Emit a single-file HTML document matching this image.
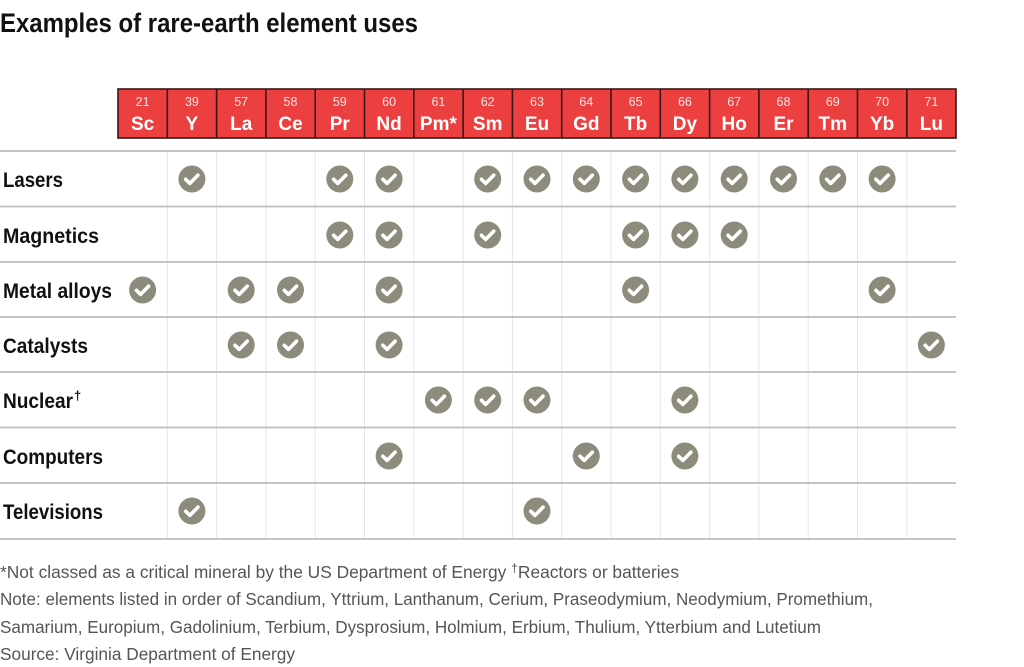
<!DOCTYPE html>
<html><head><meta charset="utf-8"><style>
html,body{margin:0;padding:0;background:#fff;}
svg{display:block;}
text{font-family:"Liberation Sans",sans-serif;}
</style></head><body>
<svg width="1024" height="667" viewBox="0 0 1024 667" xmlns="http://www.w3.org/2000/svg">
<defs>
<g id="ck"><circle r="13.5" fill="#8d8b7c"/><path d="M-6.2,0.3 L-2,4.4 L6,-3.8" fill="none" stroke="#fff" stroke-width="3.6" stroke-linecap="round" stroke-linejoin="round"/></g>
</defs>
<text x="0" y="32" font-size="27" font-weight="bold" fill="#111" textLength="418" lengthAdjust="spacingAndGlyphs">Examples of rare-earth element uses</text>

<!-- header -->
<g>
<rect x="118" y="89" width="838" height="49" fill="#ec4040" stroke="#3a1516" stroke-width="1.6"/>
<g stroke="#3a1516" stroke-width="1.6">
<line x1="167.3" y1="89" x2="167.3" y2="138"/><line x1="216.6" y1="89" x2="216.6" y2="138"/><line x1="265.9" y1="89" x2="265.9" y2="138"/><line x1="315.2" y1="89" x2="315.2" y2="138"/><line x1="364.5" y1="89" x2="364.5" y2="138"/><line x1="413.8" y1="89" x2="413.8" y2="138"/><line x1="463.1" y1="89" x2="463.1" y2="138"/><line x1="512.4" y1="89" x2="512.4" y2="138"/><line x1="561.7" y1="89" x2="561.7" y2="138"/><line x1="611" y1="89" x2="611" y2="138"/><line x1="660.3" y1="89" x2="660.3" y2="138"/><line x1="709.6" y1="89" x2="709.6" y2="138"/><line x1="758.9" y1="89" x2="758.9" y2="138"/><line x1="808.2" y1="89" x2="808.2" y2="138"/><line x1="857.5" y1="89" x2="857.5" y2="138"/><line x1="906.8" y1="89" x2="906.8" y2="138"/>
</g>
<g fill="#fde2e2" font-size="12.5" text-anchor="middle">
<text x="142.6" y="106">21</text><text x="191.9" y="106">39</text><text x="241.2" y="106">57</text><text x="290.5" y="106">58</text><text x="339.8" y="106">59</text><text x="389.1" y="106">60</text><text x="438.4" y="106">61</text><text x="487.7" y="106">62</text><text x="537" y="106">63</text><text x="586.3" y="106">64</text><text x="635.6" y="106">65</text><text x="684.9" y="106">66</text><text x="734.2" y="106">67</text><text x="783.5" y="106">68</text><text x="832.8" y="106">69</text><text x="882.1" y="106">70</text><text x="931.4" y="106">71</text>
</g>
<g fill="#fff" font-size="19" font-weight="bold" text-anchor="middle">
<text x="142.6" y="130">Sc</text><text x="191.9" y="130">Y</text><text x="241.2" y="130">La</text><text x="290.5" y="130">Ce</text><text x="339.8" y="130">Pr</text><text x="389.1" y="130">Nd</text><text x="438.4" y="130">Pm*</text><text x="487.7" y="130">Sm</text><text x="537" y="130">Eu</text><text x="586.3" y="130">Gd</text><text x="635.6" y="130">Tb</text><text x="684.9" y="130">Dy</text><text x="734.2" y="130">Ho</text><text x="783.5" y="130">Er</text><text x="832.8" y="130">Tm</text><text x="882.1" y="130">Yb</text><text x="931.4" y="130">Lu</text>
</g>
</g>

<!-- vertical grid -->
<g stroke="#e6e6e6" stroke-width="1">
<line x1="167.3" y1="151" x2="167.3" y2="539"/><line x1="216.6" y1="151" x2="216.6" y2="539"/><line x1="265.9" y1="151" x2="265.9" y2="539"/><line x1="315.2" y1="151" x2="315.2" y2="539"/><line x1="364.5" y1="151" x2="364.5" y2="539"/><line x1="413.8" y1="151" x2="413.8" y2="539"/><line x1="463.1" y1="151" x2="463.1" y2="539"/><line x1="512.4" y1="151" x2="512.4" y2="539"/><line x1="561.7" y1="151" x2="561.7" y2="539"/><line x1="611" y1="151" x2="611" y2="539"/><line x1="660.3" y1="151" x2="660.3" y2="539"/><line x1="709.6" y1="151" x2="709.6" y2="539"/><line x1="758.9" y1="151" x2="758.9" y2="539"/><line x1="808.2" y1="151" x2="808.2" y2="539"/><line x1="857.5" y1="151" x2="857.5" y2="539"/><line x1="906.8" y1="151" x2="906.8" y2="539"/>
</g>
<!-- horizontal lines -->
<g stroke="#bcbcbc" stroke-width="1.8">
<line x1="0" y1="151" x2="956" y2="151"/><line x1="0" y1="206.5" x2="956" y2="206.5"/><line x1="0" y1="262" x2="956" y2="262"/><line x1="0" y1="317" x2="956" y2="317"/><line x1="0" y1="372" x2="956" y2="372"/><line x1="0" y1="427.5" x2="956" y2="427.5"/><line x1="0" y1="483" x2="956" y2="483"/><line x1="0" y1="539" x2="956" y2="539"/>
</g>

<!-- row labels -->
<g fill="#111" font-size="21" font-weight="bold">
<text x="3" y="187" textLength="60" lengthAdjust="spacingAndGlyphs">Lasers</text>
<text x="3" y="243" textLength="96" lengthAdjust="spacingAndGlyphs">Magnetics</text>
<text x="3" y="298" textLength="109" lengthAdjust="spacingAndGlyphs">Metal alloys</text>
<text x="3" y="353" textLength="85" lengthAdjust="spacingAndGlyphs">Catalysts</text>
<text x="3" y="408" textLength="70" lengthAdjust="spacingAndGlyphs">Nuclear</text><text x="74" y="400" font-size="13" font-weight="bold">†</text>
<text x="3" y="464" textLength="100" lengthAdjust="spacingAndGlyphs">Computers</text>
<text x="3" y="519" textLength="100" lengthAdjust="spacingAndGlyphs">Televisions</text>
</g>

<!-- checks -->
<g>
<!-- Lasers y=179 -->
<use href="#ck" x="191.9" y="179"/><use href="#ck" x="339.8" y="179"/><use href="#ck" x="389.1" y="179"/><use href="#ck" x="487.7" y="179"/><use href="#ck" x="537" y="179"/><use href="#ck" x="586.3" y="179"/><use href="#ck" x="635.6" y="179"/><use href="#ck" x="684.9" y="179"/><use href="#ck" x="734.2" y="179"/><use href="#ck" x="783.5" y="179"/><use href="#ck" x="832.8" y="179"/><use href="#ck" x="882.1" y="179"/>
<!-- Magnetics y=235 -->
<use href="#ck" x="339.8" y="235"/><use href="#ck" x="389.1" y="235"/><use href="#ck" x="487.7" y="235"/><use href="#ck" x="635.6" y="235"/><use href="#ck" x="684.9" y="235"/><use href="#ck" x="734.2" y="235"/>
<!-- Metal alloys y=290 -->
<use href="#ck" x="142.6" y="290"/><use href="#ck" x="241.2" y="290"/><use href="#ck" x="290.5" y="290"/><use href="#ck" x="389.1" y="290"/><use href="#ck" x="635.6" y="290"/><use href="#ck" x="882.1" y="290"/>
<!-- Catalysts y=345 -->
<use href="#ck" x="241.2" y="345"/><use href="#ck" x="290.5" y="345"/><use href="#ck" x="389.1" y="345"/><use href="#ck" x="931.4" y="345"/>
<!-- Nuclear y=400 -->
<use href="#ck" x="438.4" y="400"/><use href="#ck" x="487.7" y="400"/><use href="#ck" x="537" y="400"/><use href="#ck" x="684.9" y="400"/>
<!-- Computers y=456 -->
<use href="#ck" x="389.1" y="456"/><use href="#ck" x="586.3" y="456"/><use href="#ck" x="684.9" y="456"/>
<!-- Televisions y=511 -->
<use href="#ck" x="191.9" y="511"/><use href="#ck" x="537" y="511"/>
</g>

<!-- footnotes -->
<g fill="#555" font-size="17.2">
<text x="0" y="578" textLength="679" lengthAdjust="spacingAndGlyphs">*Not classed as a critical mineral by the US Department of Energy <tspan font-size="12" dy="-6">†</tspan><tspan dy="6">Reactors or batteries</tspan></text>
<text x="0" y="605" textLength="873" lengthAdjust="spacingAndGlyphs">Note: elements listed in order of Scandium, Yttrium, Lanthanum, Cerium, Praseodymium, Neodymium, Promethium,</text>
<text x="0" y="633" textLength="821" lengthAdjust="spacingAndGlyphs">Samarium, Europium, Gadolinium, Terbium, Dysprosium, Holmium, Erbium, Thulium, Ytterbium and Lutetium</text>
<text x="0" y="660" textLength="295" lengthAdjust="spacingAndGlyphs">Source: Virginia Department of Energy</text>
</g>
</svg>
</body></html>
